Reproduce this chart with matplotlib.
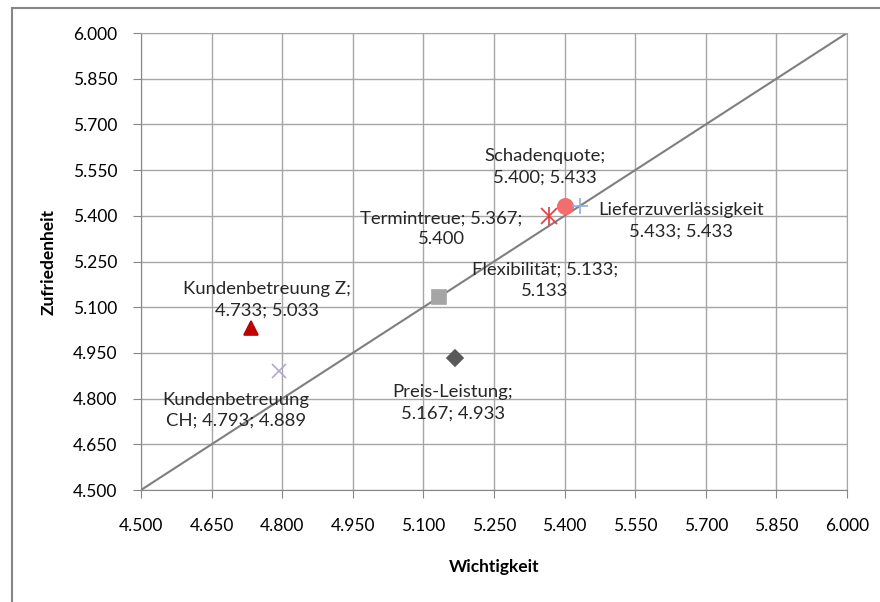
import matplotlib.pyplot as plt
from matplotlib.lines import Line2D

# Wichtigkeit / Zufriedenheit je Kriterium
kriterien = ['Schadenquote', 'Lieferzuverlässigkeit', 'Termintreue', 'Flexibilität',
             'Preis-Leistung', 'Kundenbetreuung Z', 'Kundenbetreuung CH']
wichtigkeit = [5.400, 5.433, 5.367, 5.133, 5.167, 4.733, 4.793]
zufriedenheit = [5.433, 5.433, 5.400, 5.133, 4.933, 5.033, 4.889]
beschriftung = ['Schadenquote;\n{w:.3f}; {z:.3f}',
                'Lieferzuverlässigkeit\n{w:.3f}; {z:.3f}',
                'Termintreue; {w:.3f};\n{z:.3f}',
                'Flexibilität; {w:.3f};\n{z:.3f}',
                'Preis-Leistung;\n{w:.3f}; {z:.3f}',
                'Kundenbetreuung Z;\n{w:.3f}; {z:.3f}',
                'Kundenbetreuung\nCH; {w:.3f}; {z:.3f}']
ticks = [4.5, 4.65, 4.8, 4.95, 5.1, 5.25, 5.4, 5.55, 5.7, 5.85, 6.0]

# marker style per point: (marker, color, size)
stile = [('o', '#F26D6D', 11),
         ('+', '#8FAADC', 11),
         ('x', '#E8383D', 11),
         ('s', '#A5A5A5', 10.5),
         ('D', '#595959', 8),
         ('^', '#C00000', 10.5),
         ('x', '#B4A7D6', 10.5)]
# label offsets in pixels relative to the point
versatz = [(-20, 39), (101, -15), (-108, -13), (106, 17), (-2, -45), (16, 28), (-43, -39)]

plt.rcParams['font.family'] = ['Lato', 'DejaVu Sans']

fig = plt.figure(figsize=(8.8, 6.02), dpi=100)
ax = fig.add_axes([141/880, 112/602, 706/880, 457/602])

# frame around the chart (only left/top visible)
fig.add_artist(Line2D([12/880, 12/880], [0, 1 - 8/602], color='#868686', lw=1.5))
fig.add_artist(Line2D([12/880, 1], [1 - 8/602, 1 - 8/602], color='#868686', lw=1.5))

ax.set_xlim(4.5, 6.0)
ax.set_ylim(4.5, 6.0)
ax.set_xticks(ticks)
ax.set_yticks(ticks)
ax.set_xticklabels(['%.3f' % t for t in ticks])
ax.set_yticklabels(['%.3f' % t for t in ticks])
ax.grid(True, color='#A6A6A6', lw=1)
ax.set_axisbelow(True)
for s in ax.spines.values():
    s.set_color('#A6A6A6')
ax.spines['left'].set_color('#868686')
ax.spines['bottom'].set_color('#868686')
ax.tick_params(direction='out', length=6, color='#868686', labelsize=12.5)
ax.tick_params(axis='x', pad=14)
ax.tick_params(axis='y', pad=11)

ax.plot([4.5, 6.0], [4.5, 6.0], color='#7F7F7F', lw=1.5, zorder=2)

for i in range(len(kriterien)):
    m, c, ms = stile[i]
    ax.plot(wichtigkeit[i], zufriedenheit[i], marker=m, color=c, ms=ms,
            mew=1.2, ls='none', zorder=3)
    if i == 2:
        ax.plot(wichtigkeit[i], zufriedenheit[i], marker='|', color=c, ms=ms + 2,
                mew=1.2, ls='none', zorder=3)
    txt = beschriftung[i].format(w=wichtigkeit[i], z=zufriedenheit[i])
    ax.annotate(txt, (wichtigkeit[i], zufriedenheit[i]), xytext=versatz[i],
                textcoords='offset pixels', ha='center', va='center',
                fontsize=13.3, linespacing=1.4, color='#262626', zorder=4)

ax.set_xlabel('Wichtigkeit', fontsize=12.5, fontweight='bold', labelpad=18)
ax.set_ylabel('Zufriedenheit', fontsize=12.5, fontweight='bold', labelpad=12)

fig.savefig('out.png', dpi=100)
